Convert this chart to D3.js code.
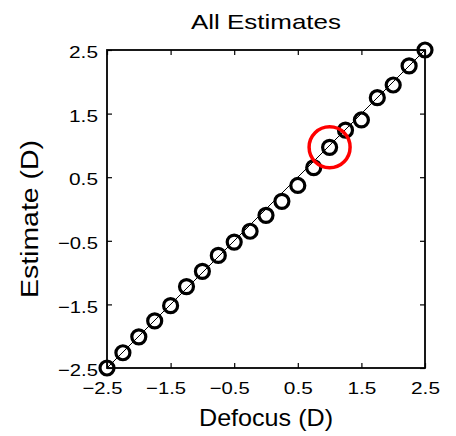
<!DOCTYPE html>
<html><head><meta charset="utf-8">
<script src="https://cdn.jsdelivr.net/npm/d3@7"></script>
<style>
html,body{margin:0;padding:0;background:#fff;}
text{font-family:"Liberation Sans",Arial,Helvetica,sans-serif;fill:#000;}
</style></head><body>
<svg id="c" width="456" height="436"></svg>
<script>
const defocus = [-2.5,-2.25,-2,-1.75,-1.5,-1.25,-1,-0.75,-0.5,-0.25,0,0.25,0.5,0.75,1,1.25,1.5,1.75,2,2.25,2.5];
const estimate = [-2.5,-2.26,-2.01,-1.76,-1.52,-1.22,-0.98,-0.73,-0.52,-0.35,-0.1,0.12,0.37,0.65,0.97,1.24,1.4,1.75,1.95,2.25,2.5];
const highlightIndex = [14];
const tickValues = [-2.5,-1.5,-0.5,0.5,1.5,2.5];
const tickLabels = ["\u22122.5","\u22121.5","\u22120.5","0.5","1.5","2.5"];
const title = "All Estimates", xLabel = "Defocus (D)", yLabel = "Estimate (D)";

const svg = d3.select("#c");
const L=107,R=425,T=50,B=368;
const x = d3.scaleLinear().domain([-2.5,2.5]).range([L,R]);
const y = d3.scaleLinear().domain([-2.5,2.5]).range([B,T]);
const fmt = v => tickLabels[tickValues.indexOf(v)];
const labW = v => v < 0 ? 40 : 29;

// identity line
svg.append("line").attr("x1",x(-2.5)).attr("y1",y(-2.5)).attr("x2",x(2.5)).attr("y2",y(2.5))
  .attr("stroke","#000").attr("stroke-width",1);

function styleAxis(g){
  g.select(".domain").remove();
  g.selectAll(".tick line").attr("stroke","#000").attr("stroke-width",1.2);
  g.selectAll(".tick text").attr("font-size",17).attr("font-family","Liberation Sans, Arial, sans-serif")
    .attr("textLength",d=>labW(d)).attr("lengthAdjust","spacingAndGlyphs");
}
const gx = svg.append("g").attr("transform",`translate(0,${B})`)
  .call(d3.axisBottom(x).tickValues(tickValues).tickFormat(fmt).tickSizeInner(-5).tickPadding(14))
  .call(styleAxis);
gx.selectAll(".tick text").attr("dx",d=>d<0?-5:0).attr("dy","0.71em");
const gy = svg.append("g").attr("transform",`translate(${L},0)`)
  .call(d3.axisLeft(y).tickValues(tickValues).tickFormat(fmt).tickSizeInner(-5).tickPadding(14))
  .call(styleAxis);
gy.selectAll(".tick text").attr("x",-9).attr("dy","0.45em");
svg.append("g").attr("transform",`translate(0,${T})`)
  .call(d3.axisTop(x).tickValues(tickValues).tickFormat("").tickSizeInner(-5))
  .call(g=>{g.select(".domain").remove(); g.selectAll(".tick line").attr("stroke","#000").attr("stroke-width",1.2);});
svg.append("g").attr("transform",`translate(${R},0)`)
  .call(d3.axisRight(y).tickValues(tickValues).tickFormat("").tickSizeInner(-5))
  .call(g=>{g.select(".domain").remove(); g.selectAll(".tick line").attr("stroke","#000").attr("stroke-width",1.2);});

svg.append("rect").attr("x",L).attr("y",T).attr("width",R-L).attr("height",B-T)
  .attr("fill","none").attr("stroke","#000").attr("stroke-width",1.8);

// points
svg.append("g").selectAll("circle").data(defocus).join("circle")
  .attr("cx",d=>x(d)).attr("cy",(d,i)=>y(estimate[i])).attr("r",7)
  .attr("fill","none").attr("stroke","#000").attr("stroke-width",3.2);

svg.append("g").selectAll("circle").data(highlightIndex).join("circle")
  .attr("cx",i=>x(defocus[i])).attr("cy",i=>y(estimate[i])).attr("r",20.5)
  .attr("fill","none").attr("stroke","#f00").attr("stroke-width",3.5);

svg.append("text").attr("x",(L+R)/2).attr("y",29).attr("text-anchor","middle").attr("font-size",21)
  .attr("textLength",150).attr("lengthAdjust","spacingAndGlyphs").text(title);
svg.append("text").attr("x",(L+R)/2).attr("y",426).attr("text-anchor","middle").attr("font-size",24)
  .attr("textLength",134).attr("lengthAdjust","spacingAndGlyphs").text(xLabel);
svg.append("text").attr("transform",`translate(38,219) rotate(-90)`).attr("text-anchor","middle").attr("font-size",23)
  .attr("textLength",158).attr("lengthAdjust","spacingAndGlyphs").text(yLabel);
</script></body></html>
